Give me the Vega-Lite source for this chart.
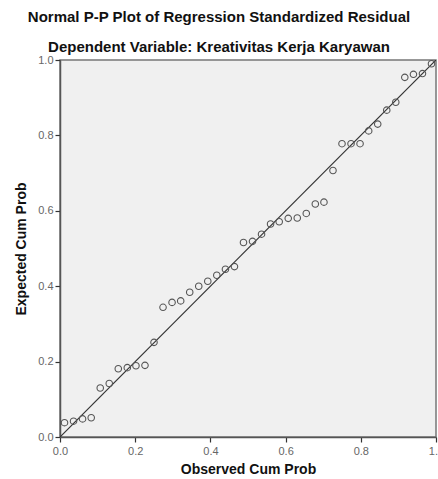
{
  "$schema": "https://vega.github.io/schema/vega-lite/v6.json",
  "autosize": "none",
  "width": 376,
  "height": 377,
  "padding": {"left": 60, "top": 60, "right": 2, "bottom": 42},
  "background": "white",
  "config": {
    "font": "Liberation Sans",
    "view": {"fill": "#f0f0f0", "stroke": "#777777", "strokeWidth": 1.5}
  },
  "title": {
    "text": "Normal P-P Plot of Regression Standardized Residual",
    "subtitle": "Dependent Variable: Kreativitas Kerja Karyawan",
    "font": "Liberation Sans",
    "fontSize": 15,
    "fontWeight": "bold",
    "color": "#111111",
    "subtitleFont": "Liberation Sans",
    "subtitleFontSize": 15,
    "subtitleFontWeight": "bold",
    "subtitleColor": "#111111",
    "subtitlePadding": 15,
    "anchor": "middle",
    "dx": -29,
    "dy": 1,
    "offset": 0
  },
  "datasets": {
    "pts": [
      {"observed": 0.012, "expected": 0.038},
      {"observed": 0.036, "expected": 0.042},
      {"observed": 0.060, "expected": 0.048},
      {"observed": 0.083, "expected": 0.051},
      {"observed": 0.107, "expected": 0.130},
      {"observed": 0.131, "expected": 0.142},
      {"observed": 0.155, "expected": 0.181},
      {"observed": 0.179, "expected": 0.184},
      {"observed": 0.202, "expected": 0.189},
      {"observed": 0.226, "expected": 0.190},
      {"observed": 0.250, "expected": 0.251},
      {"observed": 0.274, "expected": 0.344},
      {"observed": 0.298, "expected": 0.357},
      {"observed": 0.321, "expected": 0.361},
      {"observed": 0.345, "expected": 0.384},
      {"observed": 0.369, "expected": 0.400},
      {"observed": 0.393, "expected": 0.413},
      {"observed": 0.417, "expected": 0.429},
      {"observed": 0.440, "expected": 0.445},
      {"observed": 0.464, "expected": 0.452},
      {"observed": 0.488, "expected": 0.516},
      {"observed": 0.512, "expected": 0.519},
      {"observed": 0.536, "expected": 0.538},
      {"observed": 0.560, "expected": 0.565},
      {"observed": 0.583, "expected": 0.571},
      {"observed": 0.607, "expected": 0.580},
      {"observed": 0.631, "expected": 0.581},
      {"observed": 0.655, "expected": 0.593},
      {"observed": 0.679, "expected": 0.618},
      {"observed": 0.702, "expected": 0.623},
      {"observed": 0.726, "expected": 0.707},
      {"observed": 0.750, "expected": 0.778},
      {"observed": 0.774, "expected": 0.778},
      {"observed": 0.798, "expected": 0.778},
      {"observed": 0.821, "expected": 0.812},
      {"observed": 0.845, "expected": 0.830},
      {"observed": 0.869, "expected": 0.867},
      {"observed": 0.893, "expected": 0.888},
      {"observed": 0.917, "expected": 0.954},
      {"observed": 0.940, "expected": 0.962},
      {"observed": 0.964, "expected": 0.964},
      {"observed": 0.988, "expected": 0.990}
    ],
    "ref": [
      {"observed": 0, "expected": 0},
      {"observed": 1, "expected": 1}
    ]
  },
  "encoding": {
    "x": {
      "field": "observed",
      "type": "quantitative",
      "scale": {"domain": [0, 1], "nice": false, "zero": false},
      "axis": {
        "title": "Observed Cum Prob",
        "values": [0, 0.2, 0.4, 0.6, 0.8, 1.0],
        "format": ".1f",
        "grid": false,
        "domain": true,
        "domainColor": "#555555",
        "domainWidth": 1.5,
        "tickColor": "#333333",
        "tickSize": 5,
        "tickWidth": 1.2,
        "labelColor": "#666666",
        "labelFontSize": 11,
        "labelPadding": 3,
        "labelFlush": false,
        "titleFontSize": 14,
        "titleFontWeight": "bold",
        "titleColor": "#111111",
        "titlePadding": 6
      }
    },
    "y": {
      "field": "expected",
      "type": "quantitative",
      "scale": {"domain": [0, 1], "nice": false, "zero": false},
      "axis": {
        "title": "Expected Cum Prob",
        "values": [0, 0.2, 0.4, 0.6, 0.8, 1.0],
        "format": ".1f",
        "grid": false,
        "domain": true,
        "domainColor": "#555555",
        "domainWidth": 1.5,
        "tickColor": "#333333",
        "tickSize": 5,
        "tickWidth": 1.2,
        "labelColor": "#666666",
        "labelFontSize": 11,
        "labelPadding": 2,
        "labelFlush": false,
        "titleFontSize": 14,
        "titleFontWeight": "bold",
        "titleColor": "#111111",
        "titlePadding": 9
      }
    }
  },
  "layer": [
    {
      "data": {"name": "ref"},
      "mark": {"type": "line", "color": "#333333", "strokeWidth": 1.2, "clip": true}
    },
    {
      "data": {"name": "pts"},
      "mark": {"type": "point", "shape": "circle", "filled": false, "size": 42, "stroke": "#555555", "strokeWidth": 1.1, "opacity": 1}
    }
  ]
}
